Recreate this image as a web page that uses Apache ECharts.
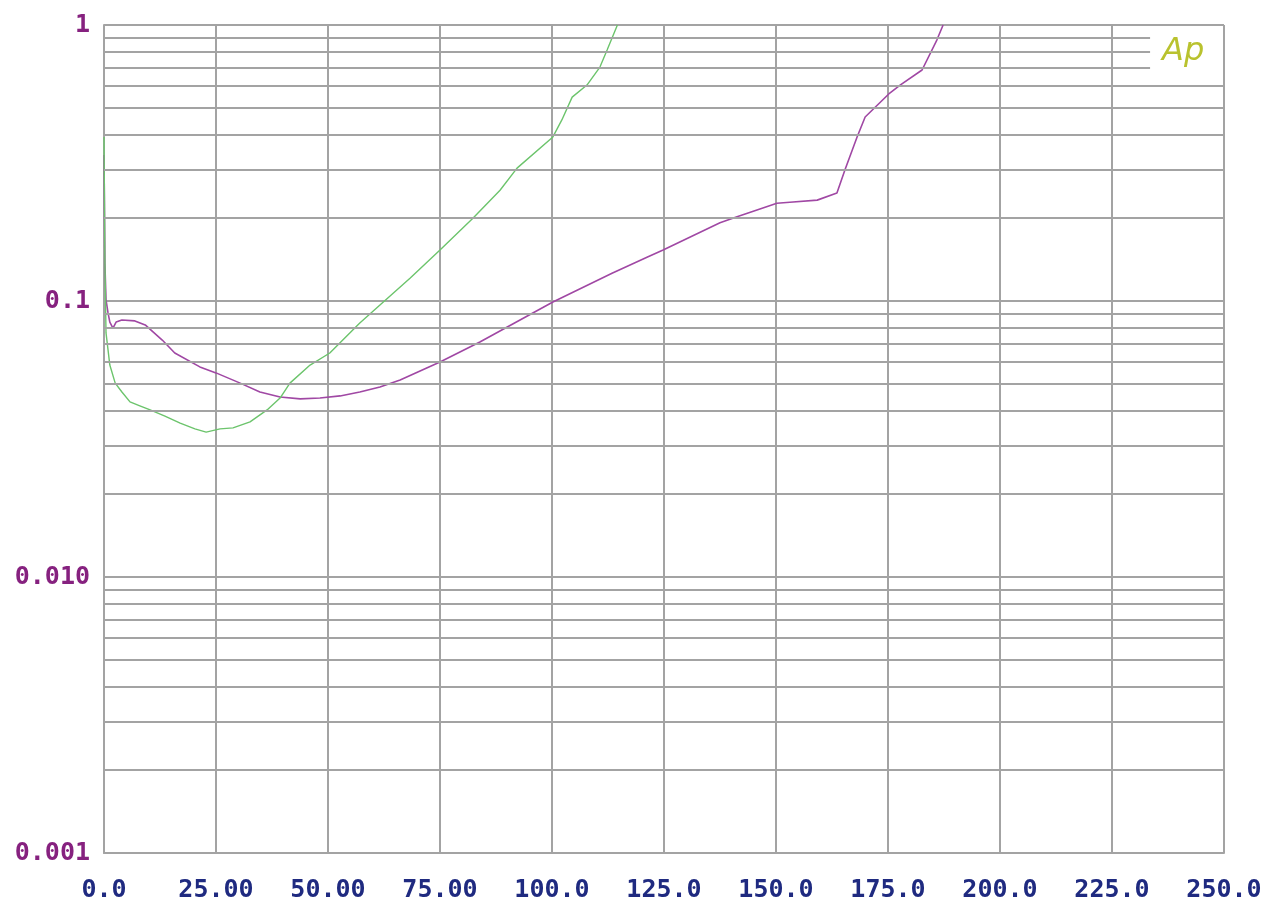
<!DOCTYPE html>
<html>
<head>
<meta charset="utf-8">
<title>Ap</title>
<script src="https://cdn.jsdelivr.net/npm/echarts@6/dist/echarts.min.js"></script>
<style>
  html, body { margin: 0; padding: 0; background: #fff; }
  #chart { width: 1274px; height: 906px; }
</style>
</head>
<body>
<div id="chart"></div>
<script>
// x ticks and their printed text
var xTicks = [0, 25, 50, 75, 100, 125, 150, 175, 200, 225, 250];
var xTickLabels = ['0.0', '25.00', '50.00', '75.00', '100.0', '125.0', '150.0', '175.0', '200.0', '225.0', '250.0'];
var yTicks = [0.001, 0.01, 0.1, 1];
var yTickLabels = ['0.001', '0.010', '0.1', '1'];

// minor log grid lines (2..9 in each decade)
var minorLines = [0.002, 0.003, 0.004, 0.005, 0.006, 0.007, 0.008, 0.009,
                  0.02, 0.03, 0.04, 0.05, 0.06, 0.07, 0.08, 0.09,
                  0.2, 0.3, 0.4, 0.5, 0.6, 0.7, 0.8, 0.9];
// these three stop short to leave room for the "Ap" tag
var shortLines = [0.7, 0.8, 0.9];
var shortLineEnd = 233.5;

// green trace
var greenX = [0, 0.2, 0.45, 0.9, 1.3, 2.5, 4.0, 5.8, 8.0, 10.3, 13.6, 17.0, 20.3, 22.8, 25.9, 28.8,
              32.6, 36.4, 39.3, 41.5, 46.0, 50.4, 57.1, 61.6, 68.3, 75.0, 82.4, 88.4, 92.2, 100.2,
              102.2, 104.5, 107.8, 110.7, 112.3, 114.6];
var greenY = [0.393, 0.141, 0.0766, 0.0665, 0.0586, 0.0504, 0.0468, 0.0431, 0.0417, 0.0403, 0.0383, 0.0361, 0.0344, 0.0335, 0.0344, 0.0347,
              0.0365, 0.0403, 0.0445, 0.0504, 0.0586, 0.0648, 0.0832, 0.0967, 0.121, 0.153, 0.200, 0.252, 0.303, 0.393,
              0.453, 0.548, 0.606, 0.704, 0.812, 1.0];

// magenta trace
var magentaX = [0, 0.2, 0.45, 0.9, 1.3, 2.0, 2.7, 4.0, 6.9, 9.2, 13.0, 15.8, 21.4, 25.0, 30.4, 34.8,
                39.3, 43.8, 48.2, 52.7, 57.1, 61.6, 66.1, 75.0, 83.9, 100.2, 113.4, 121.2, 124.8, 137.5,
                141.3, 150.2, 153.1, 159.2, 163.6, 165.4, 168.1, 169.9, 175.4, 177.7, 182.6, 185.9, 187.3];
var magentaY = [0.338, 0.137, 0.101, 0.0905, 0.0839, 0.0798, 0.0839, 0.0853, 0.0847, 0.0819, 0.0722, 0.0648, 0.0577, 0.0549, 0.0504, 0.0468,
                0.0449, 0.0442, 0.0445, 0.0453, 0.0468, 0.0488, 0.0517, 0.0601, 0.0710, 0.0992, 0.126, 0.144, 0.153, 0.192,
                0.202, 0.226, 0.228, 0.232, 0.246, 0.299, 0.393, 0.464, 0.567, 0.606, 0.687, 0.882, 1.0];

function pairs(xs, ys) {
    var out = [];
    for (var i = 0; i < xs.length; i++) out.push([xs[i], ys[i]]);
    return out;
}

var gridColor = '#a3a3a3';
var minorData = minorLines.map(function (v) {
    var end = shortLines.indexOf(v) >= 0 ? shortLineEnd : 250;
    return [{ coord: [0, v] }, { coord: [end, v] }];
});

var myChart = echarts.init(document.getElementById('chart'));
myChart.setOption({
    backgroundColor: '#fff',
    animation: false,
    grid: { left: 104, right: 50, top: 25, bottom: 53 },
    xAxis: {
        type: 'value',
        min: 0, max: 250, interval: 25,
        axisLine: { show: true, lineStyle: { color: gridColor, width: 2 } },
        axisTick: { show: false },
        splitLine: { show: true, lineStyle: { color: gridColor, width: 2 } },
        axisLabel: {
            margin: 25,
            color: '#1f2a80',
            fontFamily: 'DejaVu Sans Mono',
            fontWeight: 'bold',
            fontSize: 25,
            showMinLabel: true,
            showMaxLabel: true,
            formatter: function (v) {
                var i = xTicks.indexOf(v);
                return i >= 0 ? xTickLabels[i] : '';
            }
        }
    },
    yAxis: {
        type: 'log',
        logBase: 10,
        min: 0.001, max: 1,
        axisLine: { show: true, lineStyle: { color: gridColor, width: 2 } },
        axisTick: { show: false },
        splitLine: { show: true, lineStyle: { color: gridColor, width: 2 } },
        axisLabel: {
            margin: 14,
            color: '#86217f',
            fontFamily: 'DejaVu Sans Mono',
            fontWeight: 'bold',
            fontSize: 25,
            showMinLabel: true,
            showMaxLabel: true,
            formatter: function (v) {
                for (var i = 0; i < yTicks.length; i++) {
                    if (Math.abs(Math.log10(v) - Math.log10(yTicks[i])) < 1e-6) return yTickLabels[i];
                }
                return '';
            }
        }
    },
    graphic: [{
        type: 'text',
        left: 1162, top: 36,
        style: {
            text: 'Ap',
            fill: '#b9c22e',
            font: 'italic 300 32px "DejaVu Sans"'
        },
        z: 10
    }],
    series: [{
        name: 'grid',
        type: 'line',
        data: [],
        silent: true,
        z: 1,
        markLine: {
            silent: true,
            symbol: ['none', 'none'],
            label: { show: false },
            lineStyle: { color: gridColor, width: 2, type: 'solid' },
            data: minorData
        }
    }, {
        name: 'magenta',
        type: 'line',
        showSymbol: false,
        z: 3,
        lineStyle: { color: '#a048a4', width: 1.6 },
        data: pairs(magentaX, magentaY)
    }, {
        name: 'green',
        type: 'line',
        showSymbol: false,
        z: 4,
        lineStyle: { color: '#6cc46c', width: 1.4 },
        data: pairs(greenX, greenY)
    }]
});
</script>
</body>
</html>
